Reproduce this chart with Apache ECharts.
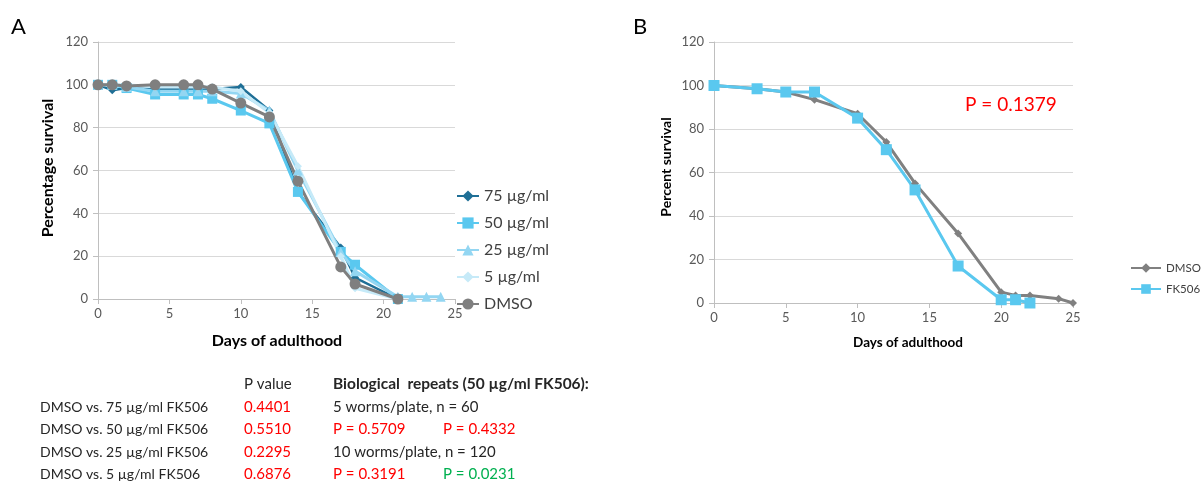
<!DOCTYPE html>
<html>
<head>
<meta charset="utf-8">
<script src="https://cdn.jsdelivr.net/npm/echarts@6/dist/echarts.min.js"></script>
<style>
  html, body { margin: 0; padding: 0; background: #fff; }
  #chart { width: 1201px; height: 482px; }
</style>
</head>
<body>
<div id="chart"></div>
<script>
// Panel A: survival by FK506 dose (days of adulthood vs % surviving)
const daysA = [0, 1, 2, 4, 6, 7, 8, 10, 12, 14, 17, 18, 21];
const daysA25 = [0, 1, 2, 4, 6, 7, 8, 10, 12, 14, 17, 18, 21, 22, 23, 24];
const surv75 = [100, 97.5, 98.5, 98, 98, 98, 98, 99, 88, 50, 24, 10, 0];
const surv50 = [100, 100, 98.5, 95.5, 95.5, 95.5, 93.5, 88, 82, 50, 22, 16, 0];
const surv25 = [100, 100, 99, 97, 97, 97, 97, 96, 88, 60, 22, 13, 1, 1, 1, 1];
const surv5 = [100, 100, 100, 99, 99, 99, 99, 97, 87, 62, 20, 5, 0];
const survDmsoA = [100, 100, 99.5, 100, 100, 100, 98, 91.5, 85, 55, 15, 7, 0];

// Panel B: DMSO vs FK506
const daysB_dmso = [0, 3, 5, 7, 10, 12, 14, 17, 20, 21, 22, 24, 25];
const survB_dmso = [100, 98.5, 97, 93.5, 87, 74, 55, 32, 5, 3.5, 3.5, 2, 0];
const daysB_fk = [0, 3, 5, 7, 10, 12, 14, 17, 20, 21, 22];
const survB_fk = [100, 98.5, 97, 97, 85, 70.5, 52, 17, 1.5, 1.5, 0];

const xTicks = [0, 5, 10, 15, 20, 25];
const yTicks = [0, 20, 40, 60, 80, 100, 120];

// p-value table text
const compareLabels = ['DMSO vs. 75 µg/ml FK506', 'DMSO vs. 50 µg/ml FK506', 'DMSO vs. 25 µg/ml FK506', 'DMSO vs. 5 µg/ml FK506'];
const pValues = ['0.4401', '0.5510', '0.2295', '0.6876'];

const zip = (xs, ys) => xs.map((x, i) => [x, ys[i]]);

const FONT = 'Lato, "Open Sans", sans-serif';
const TICK = '#595959';
const AXIS = '#bfbfbf';
const GRID = '#d9d9d9';

function xAxisCfg(gridIndex) {
  return {
    type: 'value', gridIndex, min: xTicks[0], max: xTicks[xTicks.length - 1], interval: 5,
    axisLine: { show: true, lineStyle: { color: AXIS, width: 1 } },
    axisTick: { show: true, length: 5, lineStyle: { color: AXIS } },
    splitLine: { show: false },
    axisLabel: { color: TICK, fontSize: 13, fontFamily: FONT, margin: 8 }
  };
}
function yAxisCfg(gridIndex) {
  return {
    type: 'value', gridIndex, min: yTicks[0], max: yTicks[yTicks.length - 1], interval: 20,
    axisLine: { show: true, lineStyle: { color: AXIS, width: 1 } },
    axisTick: { show: true, length: 5, lineStyle: { color: AXIS } },
    splitLine: { show: true, lineStyle: { color: GRID, width: 1 } },
    axisLabel: { color: TICK, fontSize: 13, fontFamily: FONT, margin: 10 }
  };
}

function lineSeries(name, data, color, symbol, size, xi, width) {
  return {
    type: 'line', name, data, xAxisIndex: xi, yAxisIndex: xi,
    symbol, symbolSize: size, showSymbol: true,
    lineStyle: { color, width: width || 3 },
    itemStyle: { color, borderWidth: 0 },
    emphasis: { disabled: true },
    animation: false
  };
}

const txt = (text, x, y, opt) => ({
  type: 'text', x, y,
  style: Object.assign({ text, fontFamily: FONT, fontSize: 15, fill: '#262626', textVerticalAlign: 'middle' }, opt || {})
});

const graphics = [
  txt('A', 11, 27, { fontSize: 22, fill: '#000' }),
  txt('B', 633, 27, { fontSize: 22, fill: '#000' }),
  Object.assign(txt('Percentage survival', 48, 168, { fontSize: 16, fontWeight: 'bold', textAlign: 'center', fill: '#000' }), { rotation: Math.PI / 2 }),
  txt('Days of adulthood', 277, 341, { fontSize: 16, fontWeight: 'bold', textAlign: 'center', fill: '#000' }),
  Object.assign(txt('Percent survival', 666, 167, { fontSize: 14, fontWeight: 'bold', textAlign: 'center', fill: '#000' }), { rotation: Math.PI / 2 }),
  txt('Days of adulthood', 908, 343, { fontSize: 13.5, fontWeight: 'bold', textAlign: 'center', fill: '#000' }),
  txt('P = 0.1379', 965, 105, { fontSize: 19, fill: '#ff0000' }),
  txt('P value', 244, 384, {}),
  txt('Biological  repeats (50 µg/ml FK506):', 333, 384, { fontWeight: 'bold', fontSize: 15.5 }),
  txt('5 worms/plate, n = 60', 333, 407, {}),
  txt('P = 0.5709', 333, 429, { fill: '#ff0000' }),
  txt('P = 0.4332', 443, 429, { fill: '#ff0000' }),
  txt('10 worms/plate, n = 120', 333, 452, {}),
  txt('P = 0.3191', 333, 474, { fill: '#ff0000' }),
  txt('P = 0.0231', 443, 474, { fill: '#00b050' })
];
compareLabels.forEach((t, i) => {
  graphics.push(txt(t, 40, 407 + i * 22.5, { fontSize: 14 }));
  graphics.push(txt(pValues[i], 244, 407 + i * 22.5, { fill: '#ff0000' }));
});

const chart = echarts.init(document.getElementById('chart'), null, { renderer: 'canvas' });
chart.setOption({
  animation: false,
  backgroundColor: '#ffffff',
  grid: [
    { left: 98, top: 42, width: 357, height: 257 },
    { left: 714, top: 42, width: 359, height: 261 }
  ],
  xAxis: [xAxisCfg(0), xAxisCfg(1)],
  yAxis: [yAxisCfg(0), yAxisCfg(1)],
  legend: [
    {
      orient: 'vertical', left: 456, top: 188, padding: 0, itemWidth: 22, itemHeight: 14, itemGap: 11,
      textStyle: { fontSize: 16, color: '#404040', fontFamily: FONT },
      data: ['75 µg/ml', '50 µg/ml', '25 µg/ml', '5 µg/ml', 'DMSO'],
      selectedMode: false
    },
    {
      orient: 'vertical', left: 1130, top: 262, padding: 0, itemWidth: 30, itemHeight: 12, itemGap: 9,
      textStyle: { fontSize: 11.5, color: '#404040', fontFamily: FONT },
      data: ['DMSO ', 'FK506'],
      formatter: n => n.trim(),
      selectedMode: false
    }
  ],
  series: [
    lineSeries('75 µg/ml', zip(daysA, surv75), '#1f6f96', 'diamond', 8, 0, 2.5),
    lineSeries('50 µg/ml', zip(daysA, surv50), '#5ac8ef', 'rect', 10, 0, 3),
    lineSeries('25 µg/ml', zip(daysA25, surv25), '#93d6f2', 'triangle', 10, 0, 3),
    lineSeries('5 µg/ml', zip(daysA, surv5), '#c6eaf8', 'diamond', 8, 0, 3),
    lineSeries('DMSO', zip(daysA, survDmsoA), '#7f7f7f', 'circle', 11, 0, 3),
    lineSeries('DMSO ', zip(daysB_dmso, survB_dmso), '#808080', 'diamond', 8, 1, 3),
    lineSeries('FK506', zip(daysB_fk, survB_fk), '#5ac8ef', 'rect', 11, 1, 3)
  ],
  graphic: graphics
});
</script>
</body>
</html>
